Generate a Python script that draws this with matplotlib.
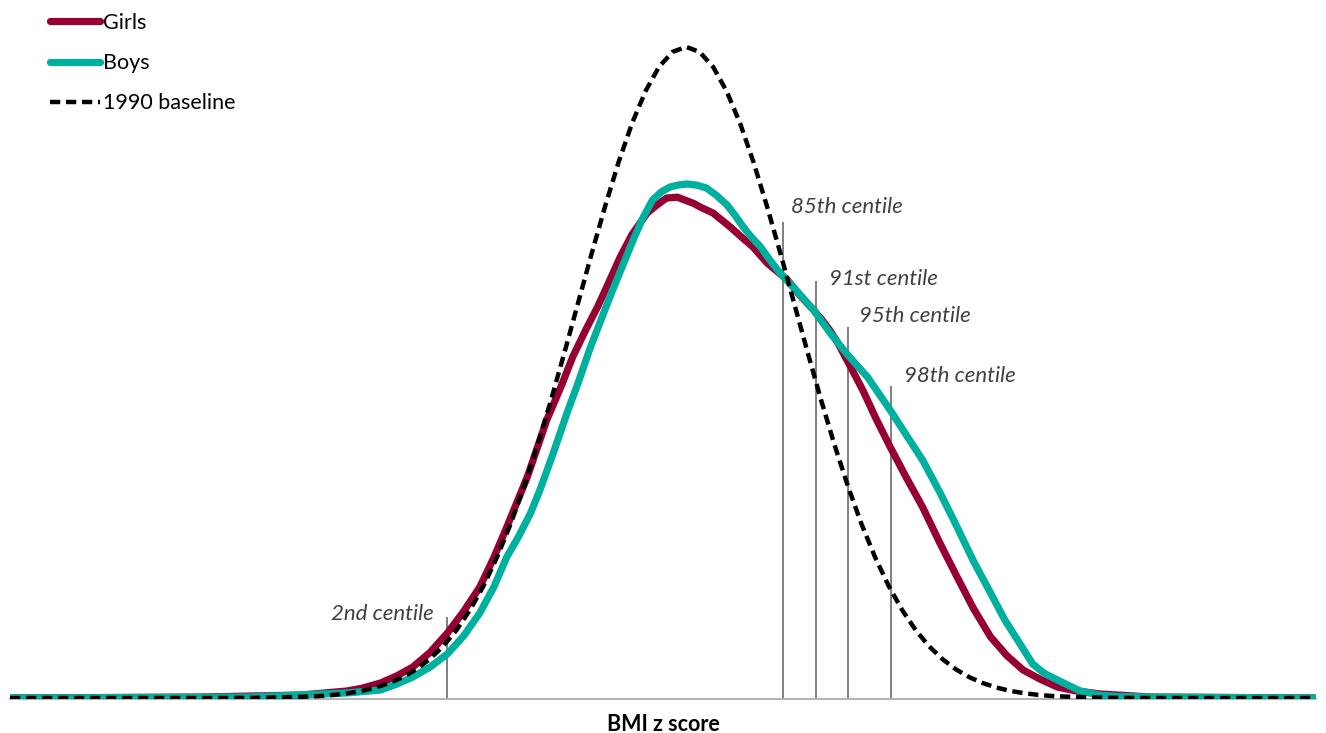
import matplotlib.pyplot as plt
import numpy as np

# --- data (x = BMI z score, y = density) ---
girls_z = [-6.26, -4.5, -3.57, -3.14, -3.0, -2.83, -2.68, -2.53, -2.37, -2.21, -2.06, -1.91,
           -1.78, -1.66, -1.47, -1.29, -1.15, -1.05, -0.93, -0.82, -0.71, -0.61, -0.5, -0.36,
           -0.27, -0.18, -0.08, 0.01, 0.07, 0.13, 0.25, 0.41, 0.52, 0.62, 0.75, 0.85, 0.94,
           1.05, 1.18, 1.26, 1.33, 1.41, 1.49, 1.57, 1.64, 1.76, 1.89, 2.04, 2.19, 2.35,
           2.51, 2.66, 2.82, 2.97, 3.12, 3.28, 3.44, 3.6, 3.83, 4.3, 5.83]
girls_d = [0.0, 0.0006, 0.0018, 0.0043, 0.006, 0.0092, 0.0135, 0.019, 0.028, 0.0398, 0.053, 0.068,
           0.086, 0.1047, 0.1354, 0.1703, 0.192, 0.2089, 0.2254, 0.2395, 0.2554, 0.2701, 0.284, 0.2971,
           0.302, 0.3063, 0.3068, 0.3045, 0.303, 0.3008, 0.2971, 0.2885, 0.282, 0.2763, 0.2665, 0.261, 0.256,
           0.247, 0.2377, 0.2315, 0.2254, 0.217, 0.207, 0.197, 0.1881, 0.171, 0.1538, 0.135, 0.117, 0.095,
           0.0741, 0.055, 0.0374, 0.026, 0.0172, 0.0115, 0.0067, 0.0045, 0.0025, 0.0006, 0.0]

boys_z = [-6.26, -4.04, -3.14, -2.83, -2.68, -2.53, -2.37, -2.21, -2.06, -1.91, -1.78, -1.66,
          -1.55, -1.44, -1.35, -1.23, -1.1, -1.0, -0.89, -0.78, -0.68, -0.58, -0.49, -0.4,
          -0.31, -0.23, -0.15, -0.07, 0.01, 0.1, 0.19, 0.28, 0.38, 0.45, 0.53, 0.61, 0.69,
          0.78, 0.87, 1.03, 1.18, 1.33, 1.49, 1.58, 1.68, 1.78, 1.89, 2.04, 2.19, 2.35,
          2.51, 2.66, 2.82, 2.95, 3.07, 3.21, 3.32, 3.44, 3.55, 3.65, 3.83, 4.0, 4.3, 5.83]
boys_d = [0.0, 0.0006, 0.0031, 0.0049, 0.0085, 0.0129, 0.019, 0.027, 0.038, 0.0521, 0.068, 0.0864,
          0.099, 0.1133, 0.128, 0.15, 0.175, 0.193, 0.214, 0.233, 0.2499, 0.266, 0.2806, 0.294,
          0.3051, 0.31, 0.313, 0.3143, 0.3149, 0.3142, 0.3124, 0.308, 0.302, 0.296, 0.2885, 0.282, 0.2763,
          0.268, 0.2603, 0.249, 0.2377, 0.224, 0.2107, 0.204, 0.1966, 0.187, 0.1764, 0.161, 0.1458, 0.126,
          0.1047, 0.084, 0.0643, 0.048, 0.0355, 0.0208, 0.015, 0.011, 0.0075, 0.0043, 0.0018, 0.001, 0.0006, 0.0]

base_z = [-6.26, -5.0, -4.5, -4.0, -3.75, -3.5, -3.375, -3.25, -3.125, -3.0, -2.875, -2.75,
          -2.625, -2.5, -2.375, -2.25, -2.125, -2.0, -1.875, -1.75, -1.625, -1.5, -1.375,
          -1.25, -1.125, -1.0, -0.875, -0.75, -0.625, -0.5, -0.375, -0.25, -0.125, 0.0,
          0.125, 0.25, 0.375, 0.5, 0.625, 0.75, 0.875, 1.0, 1.125, 1.25, 1.375, 1.5, 1.625,
          1.75, 1.875, 2.0, 2.125, 2.25, 2.375, 2.5, 2.625, 2.75, 2.875, 3.0, 3.125, 3.25,
          3.375, 3.5, 3.75, 4.0, 4.5, 5.0, 5.83]
base_d = [0.0, 0.0, 0.0, 0.0001, 0.0004, 0.0009, 0.0013, 0.002, 0.003, 0.0044, 0.0064, 0.0091,
          0.0127, 0.0175, 0.0238, 0.0317, 0.0417, 0.054, 0.0688, 0.0863, 0.1065, 0.1295, 0.155,
          0.1826, 0.2119, 0.242, 0.2721, 0.3011, 0.3282, 0.3521, 0.3718, 0.3867, 0.3958, 0.3989,
          0.3958, 0.3867, 0.3718, 0.3521, 0.3282, 0.3011, 0.2721, 0.242, 0.2119, 0.1826, 0.155, 0.1295, 0.1065,
          0.0863, 0.0688, 0.054, 0.0417, 0.0317, 0.0238, 0.0175, 0.0127, 0.0091, 0.0064, 0.0044, 0.003, 0.002,
          0.0013, 0.0009, 0.0004, 0.0001, 0.0, 0.0, 0.0]

centile_labels = ['2nd centile', '85th centile', '91st centile', '95th centile', '98th centile']
centile_z = [-2.21, 0.90, 1.20, 1.50, 1.90]
centile_top = [0.0496, 0.2916, 0.2554, 0.2273, 0.1911]

fig = plt.figure(figsize=(13.26, 7.33), dpi=100)
ax = fig.add_axes([10 / 1326, 34 / 733, 1306 / 1326, 699 / 733])
ax.set_xlim(-6.26, 5.833)
ax.set_ylim(-0.0006, 0.4276)

# centile markers (behind the curves)
ax.vlines(centile_z, 0, centile_top, color='#7F7F7F', lw=1.4, zorder=1)
offsets = [(-14, 3), (8, 15), (13, 2), (11, 11), (13, 10)]
for lab, cz, top, (dx, dy) in zip(centile_labels, centile_z, centile_top, offsets):
    ax.annotate(lab, xy=(cz, top), xytext=(dx, dy), textcoords='offset pixels',
                ha='right' if dx < 0 else 'left', va='center',
                fontsize=16, style='italic', color='#404040', family='Lato')

ax.plot(girls_z, girls_d, color='#960032', lw=5.2, solid_joinstyle='round',
        solid_capstyle='round', label='Girls', zorder=3)
ax.plot(boys_z, boys_d, color='#00B09E', lw=5.2, solid_joinstyle='round',
        solid_capstyle='round', label='Boys', zorder=4)
ax.plot(base_z, base_d, color='black', lw=3.2, dashes=(2.3, 1.3),
        label='1990 baseline', zorder=5)

for s in ['top', 'left', 'right']:
    ax.spines[s].set_visible(False)
ax.spines['bottom'].set_color('#A6A6A6')
ax.spines['bottom'].set_linewidth(1.2)
ax.spines['bottom'].set_zorder(0)
ax.set_xticks([])
ax.set_yticks([])

ax.set_xlabel('BMI z score', fontsize=15.5, fontweight='bold', family='Lato', labelpad=11)

leg = ax.legend(loc='upper left', bbox_to_anchor=(27 / 1306, 1.0), frameon=False,
                prop={'family': 'Lato', 'size': 15.5}, handlelength=2.33,
                handletextpad=0.15, labelspacing=0.94, borderaxespad=0.2)

fig.savefig('out.png', dpi=100)
